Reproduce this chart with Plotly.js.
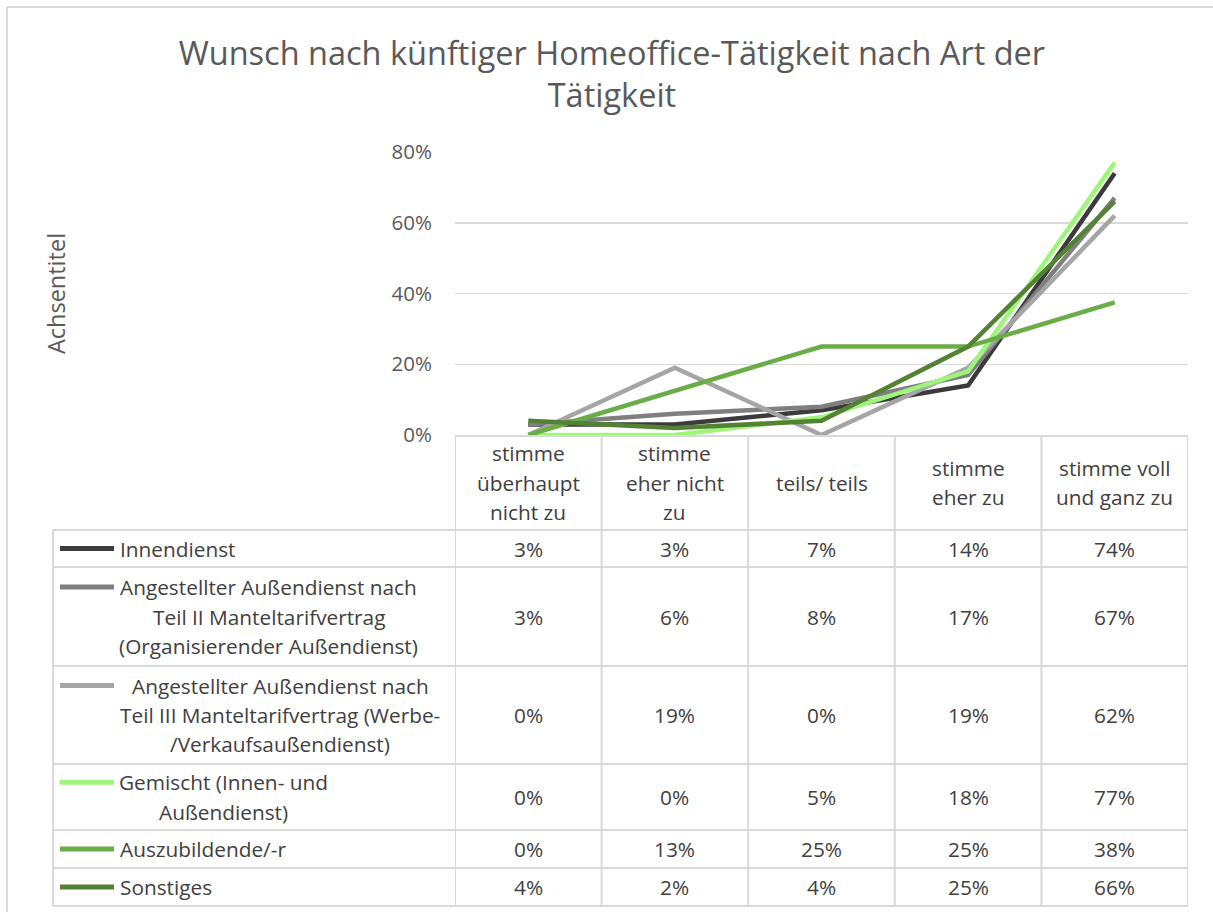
<!DOCTYPE html>
<html>
<head>
<meta charset="utf-8">
<script src="https://cdn.plot.ly/plotly-3.0.1.min.js"></script>
<style>html,body{margin:0;padding:0;background:#fff;}#chart{width:1213px;height:912px;}</style>
</head>
<body>
<div id="chart"></div>
<script>
// ---- data ----
const categories = ["stimme überhaupt nicht zu", "stimme eher nicht zu", "teils/ teils", "stimme eher zu", "stimme voll und ganz zu"];
const categoryLabelLines = [["stimme", "überhaupt", "nicht zu"], ["stimme", "eher nicht", "zu"], ["teils/ teils"], ["stimme", "eher zu"], ["stimme voll", "und ganz zu"]];
const seriesNames = ["Innendienst", "Angestellter Außendienst nach Teil II Manteltarifvertrag (Organisierender Außendienst)", "Angestellter Außendienst nach Teil III Manteltarifvertrag (Werbe-/Verkaufsaußendienst)", "Gemischt (Innen- und Außendienst)", "Auszubildende/-r", "Sonstiges"];
const seriesLabelLines = [["Innendienst"], ["Angestellter Außendienst nach", "Teil II Manteltarifvertrag", "(Organisierender Außendienst)"], ["Angestellter Außendienst nach", "Teil III Manteltarifvertrag (Werbe-", "/Verkaufsaußendienst)"], ["Gemischt (Innen- und", "Außendienst)"], ["Auszubildende/-r"], ["Sonstiges"]];
const innendienst = [3, 3, 7, 14, 74];
const aussendienstTeil2 = [3, 6, 8, 17, 67];
const aussendienstTeil3 = [0, 19, 0, 19, 62];
const gemischt = [0, 0, 5, 18, 77];
const auszubildende = [0, 12.5, 25, 25, 37.5];
const sonstiges = [4, 2, 4, 25, 66];
const yTicks = [0, 0.2, 0.4, 0.6, 0.8];
const titleText = "Wunsch nach künftiger Homeoffice-Tätigkeit nach Art der<br>Tätigkeit";
const yTitleText = "Achsentitel";

// ---- styles / layout ----
const seriesValues = [innendienst, aussendienstTeil2, aussendienstTeil3, gemischt, auszubildende, sonstiges];
const colors = ["#3b3b3b", "#7f7f7f", "#a5a5a5", "#9ef57a", "#6aad47", "#548235"];
const FONT = "Open Sans, Noto Sans, sans-serif";
const TXT = "#404040";
const GRID = "#d9d9d9";
const TS = 20.8;
const W = 1213, H = 912;
const PL = 455, PR = 1188, PT = 152, PB = 435;
const px = x => (x - PL) / (PR - PL);
const py = y => (PB - y) / (PB - PT);

// table geometry (pixels)
const tableLeft = 53;
const rowBounds = [530, 567, 666, 764, 830, 868, 906];
const rowCenters = [548.5, 616.5, 715, 797, 849, 887];
const lineSpacing = 29.5;
const headerCenter = 482.5;
const keyX0 = 60, keyX1 = 114;
const labelLeft = 118;
const labelCenters = [null, 268.5, 280, 223.5, null, null];

const traces = seriesValues.map((vals, i) => ({
  type: "scatter", mode: "lines", name: seriesNames[i],
  x: categories, y: vals.map(v => v / 100),
  line: {color: colors[i], width: 4.5},
  hoverinfo: "skip", showlegend: false
}));

const shapes = [];
const annotations = [];
const ln = (x0, y0, x1, y1, color, width) => shapes.push({type: "line", xref: "paper", yref: "paper", x0: px(x0), y0: py(y0), x1: px(x1), y1: py(y1), line: {color: color, width: width}, layer: "above"});

// outer chart border
ln(7, 7, 7, H + 5, GRID, 2);
ln(7, 7, W + 5, 7, GRID, 2);

// table vertical lines at category boundaries
for (let k = 0; k <= categories.length; k++) {
  shapes.push({type: "line", xref: "x", yref: "paper", x0: k - 0.5, x1: k - 0.5, y0: py(PB), y1: py(rowBounds[rowBounds.length - 1]), line: {color: GRID, width: 2}});
}
// table left border
ln(tableLeft, rowBounds[0], tableLeft, rowBounds[rowBounds.length - 1], GRID, 2);
// table horizontal lines
rowBounds.forEach(y => ln(tableLeft, y, PR, y, GRID, 2));

// header labels
categoryLabelLines.forEach((lines, c) => {
  const n = lines.length;
  lines.forEach((t, j) => {
    annotations.push({xref: "x", yref: "paper", x: categories[c], y: py(headerCenter + (j - (n - 1) / 2) * lineSpacing), text: t, showarrow: false, xanchor: "center", yanchor: "middle", font: {family: FONT, size: TS, color: TXT}});
  });
});

// rows: legend keys, labels, values
seriesValues.forEach((vals, r) => {
  const lines = seriesLabelLines[r];
  const n = lines.length;
  const firstY = rowCenters[r] - (n - 1) / 2 * lineSpacing;
  ln(keyX0, firstY, keyX1, firstY, colors[r], 5);
  lines.forEach((t, j) => {
    const yy = firstY + j * lineSpacing;
    if (labelCenters[r] === null) {
      annotations.push({xref: "paper", yref: "paper", x: px(labelLeft), y: py(yy), text: t, showarrow: false, xanchor: "left", yanchor: "middle", font: {family: FONT, size: TS, color: TXT}});
    } else {
      annotations.push({xref: "paper", yref: "paper", x: px(labelCenters[r]), y: py(yy), text: t, showarrow: false, xanchor: "center", yanchor: "middle", font: {family: FONT, size: TS, color: TXT}});
    }
  });
  vals.forEach((v, c) => {
    annotations.push({xref: "x", yref: "paper", x: categories[c], y: py(rowCenters[r]), text: Math.round(v) + "%", showarrow: false, xanchor: "center", yanchor: "middle", font: {family: FONT, size: TS, color: TXT}});
  });
});

const layout = {
  width: W, height: H,
  paper_bgcolor: "#ffffff", plot_bgcolor: "#ffffff",
  margin: {l: PL, r: W - PR, t: PT, b: H - PB, pad: 0},
  showlegend: false,
  title: {text: titleText, font: {family: FONT, size: 32.5, color: "#595959"}, x: 0.5045, xref: "container", xanchor: "center", y: 1 - 65 / H, yref: "container", yanchor: "top"},
  xaxis: {type: "category", categoryarray: categories, range: [-0.5, categories.length - 0.5], showticklabels: false, ticks: "", showgrid: false, zeroline: false, showline: true, linecolor: GRID, linewidth: 2, fixedrange: true},
  yaxis: {range: [0, 0.8], tickvals: yTicks, tickformat: ".0%", showgrid: true, gridcolor: GRID, gridwidth: 1.5, zeroline: false, showline: false, ticks: "", ticklabelstandoff: 22, tickfont: {family: FONT, size: 20.5, color: "#595959"}, title: {text: yTitleText, font: {family: FONT, size: 23.5, color: "#595959"}, standoff: 319}, fixedrange: true},
  shapes: shapes,
  annotations: annotations
};

Plotly.newPlot("chart", traces, layout, {staticPlot: true, displayModeBar: false});
</script>
</body>
</html>
